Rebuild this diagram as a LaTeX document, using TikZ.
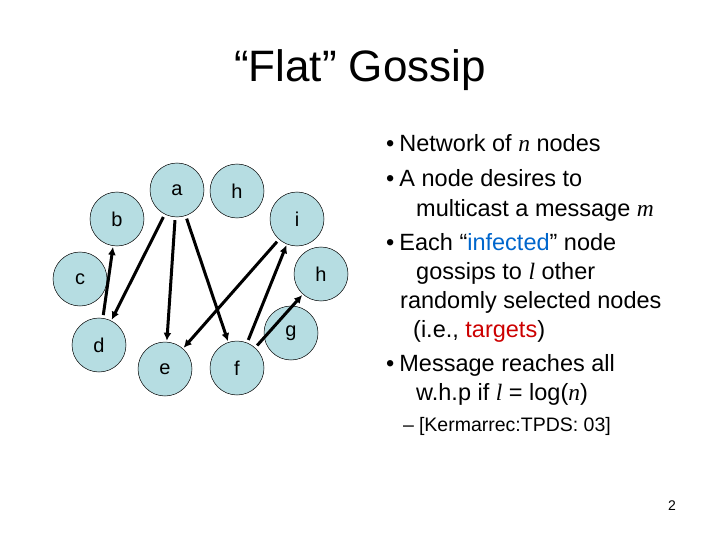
\documentclass[tikz,border=0pt]{standalone}
\usepackage{fontspec}
\setmainfont{Liberation Sans}
\newfontfamily\ser{Liberation Serif}
\usetikzlibrary{arrows.meta}
\definecolor{nodeblue}{RGB}{182,221,226}
\definecolor{tred}{RGB}{204,0,0}
\definecolor{tblue}{RGB}{0,102,204}
\newcommand{\vi}[1]{{\ser\itshape #1}}
\begin{document}
\begin{tikzpicture}[x=1pt,y=-1pt,
  g/.style={circle,draw=black,line width=0.5pt,fill=nodeblue,minimum size=54pt,inner sep=0pt,font=\fontsize{20}{20}\selectfont},
  ar/.style={line width=3pt,-{Latex[length=8pt,width=8pt]},shorten <=3pt,shorten >=1pt},
  bt/.style={anchor=base west,inner sep=0pt,font=\fontsize{23.5}{23.5}\selectfont}]
\useasboundingbox (0,0) rectangle (720,540);
\node[anchor=base,inner sep=0pt,font=\fontsize{44}{44}\selectfont] (title) at (360,82) {“Flat” Gossip};
\node[g] (a) at (177,190) {a};
\node[g] (h1) at (237,191) {h};
\node[g] (b) at (117,219) {b};
\node[g] (i) at (297,219) {i};
\node[g] (c) at (80,279) {c};
\node[g] (h2) at (321,274) {h};
\node[g] (d) at (99,345) {d};
\node[g] (g) at (291,333) {g};
\node[g] (e) at (165,369) {e};
\node[g] (f) at (237,368) {f};
\draw[ar] (a) -- (d);
\draw[ar] (a) -- (e);
\draw[ar] (a) -- (f);
\draw[ar] (d) -- (b);
\draw[ar] (i) -- (e);
\draw[ar] (f) -- (i);
\draw[ar] (f) -- (h2);
\node[bt] (l1) at (386,152) {•\hspace{5pt}Network of \vi{n} nodes};
\node[bt] (l2) at (386,187) {•\hspace{5pt}A node desires to};
\node[bt] (l3) at (416,216) {multicast a message \vi{m}};
\node[bt] (l4) at (386,250) {•\hspace{5pt}Each “\textcolor{tblue}{infected}” node};
\node[bt] (l5) at (416,279) {gossips to \vi{l} other};
\node[bt] (l6) at (400,308) {randomly selected nodes};
\node[bt] (l7) at (413,337) {(i.e., \textcolor{tred}{targets})};
\node[bt] (l8) at (386,371) {•\hspace{5pt}Message reaches all};
\node[bt] (l9) at (416,400) {w.h.p if \vi{l} = log(\vi{n})};
\node[anchor=base west,inner sep=0pt,font=\fontsize{19.5}{19.5}\selectfont] (s1) at (403,431) {–\hspace{5pt}[Kermarrec:TPDS: 03]};
\node[anchor=base,inner sep=0pt,font=\fontsize{14}{14}\selectfont] (pg) at (672,510) {2};
\end{tikzpicture}
\end{document}
